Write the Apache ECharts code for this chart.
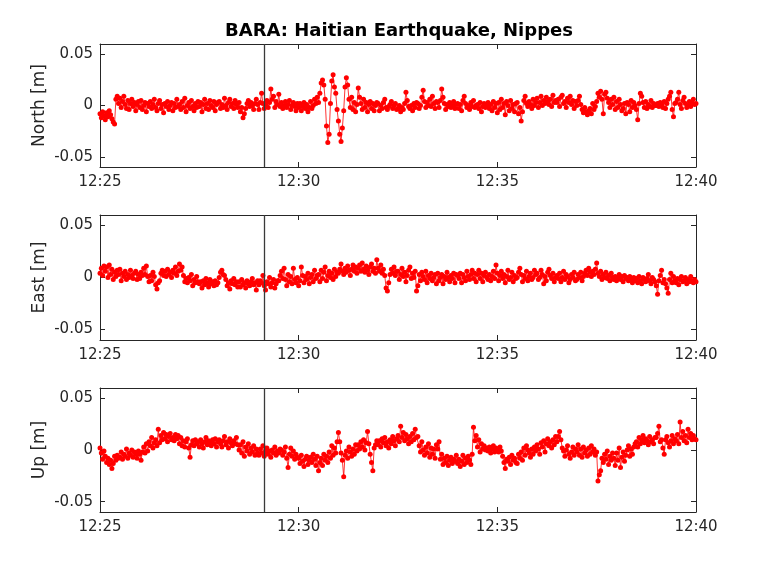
<!DOCTYPE html>
<html><head><meta charset="utf-8">
<script src="https://cdn.jsdelivr.net/npm/echarts@6/dist/echarts.min.js"></script>
<style>html,body{margin:0;padding:0;background:#fff}#c{width:768px;height:576px}</style>
</head><body><div id="c"></div>
<script>
const chartTitle = 'BARA: Haitian Earthquake, Nippes';
const componentNames = ['North [m]', 'East [m]', 'Up [m]'];
const xTickValues = [0, 300, 600, 900];            // seconds after 12:25:00
const xTickLabels = ['12:25', '12:30', '12:35', '12:40'];
const yTickValues = [-0.05, 0, 0.05];
const yTickLabels = ['-0.05', '0', '0.05'];
const sampleStepSec = 2;                          // samples every 2 s from 12:25:00
const eventTimeSec = 248;                         // 12:29:08 origin time marker

// displacements in millimetres, one row = 30 s
const northMM = [
  -8,-12,-6,-10,-14,-7,-11,-5,-9,-13,-16,-18,6,9,2,
  7,-2,4,9,1,-3,5,-4,2,6,-1,3,-5,1,4,
  -2,5,-4,0,3,-6,2,-1,4,-3,1,6,-2,-5,2,
  5,-3,1,-7,2,-1,4,-4,0,3,-5,2,-2,6,-1,
  1,-4,4,-2,7,-6,0,3,-3,5,-1,-5,2,-2,4,
  -1,3,-6,1,6,-3,2,-4,5,0,-2,4,-5,1,3,
  4,-3,1,-2,7,0,-4,3,6,-1,2,-3,5,1,-2,
  3,-6,-2,-12,-8,-3,2,5,-1,3,0,-4,2,6,1,
  -4,3,12,2,-3,1,5,-2,3,16,6,9,-2,4,1,
  11,-1,3,-3,0,4,-2,1,5,-4,0,3,-1,-5,2,
  -2,2,-5,-1,3,-3,1,-6,-2,4,-3,0,6,2,8,
  3,12,22,25,20,6,-20,-36,-28,2,24,30,18,12,-4,
  -15,-28,-35,-22,-5,18,27,20,6,-2,8,-4,3,-6,1,
  17,8,2,-4,6,-2,3,-6,1,4,-3,2,-5,0,3,
  2,-5,0,-3,3,6,-2,-4,-1,1,4,-3,0,2,-4,
  -3,0,-6,-2,-4,2,13,5,-1,-3,0,-5,2,-2,3,
  2,-3,0,8,15,4,-2,3,0,6,-1,9,2,-3,4,
  3,-2,5,16,8,2,-4,1,-1,3,-2,0,4,-3,1,
  2,-3,1,-5,5,9,2,-2,0,-4,3,-1,5,-2,0,
  1,-3,3,-6,-1,2,-2,0,3,-3,1,-5,4,-2,2,
  -7,3,-4,6,-2,2,-9,4,0,-5,5,-3,1,-6,2,
  3,-8,-2,-15,-6,5,9,2,-1,4,1,-3,6,0,3,
  7,-2,3,9,0,5,2,8,4,1,6,-1,10,3,5,
  3,6,-1,8,10,2,4,-2,7,3,9,1,5,-3,4,
  0,5,9,1,-4,-7,-2,-6,-9,-5,-3,-8,2,-4,-1,
  4,12,8,14,6,-8,11,13,7,3,-2,6,1,8,-4,
  4,-2,6,1,-5,-3,2,-8,3,1,-6,5,-2,3,0,
  -4,-14,2,12,9,3,-2,4,-3,1,-1,5,-2,2,0,
  0,2,-1,3,1,-2,4,-3,2,6,9,13,-4,-11,2,
  3,6,13,1,-3,5,8,2,-2,0,4,-1,3,6,1,
  2
];
const eastMM = [
  4,9,2,11,6,10,0,12,3,8,-2,5,1,7,3,
  8,-3,4,1,6,-2,3,0,7,2,-1,4,6,-2,3,
  -1,5,2,9,3,11,1,-4,2,-3,5,1,-7,-11,-5,
  -3,4,7,2,6,1,8,3,5,0,7,4,10,2,6,
  13,7,10,2,-4,-1,-5,0,-3,3,-8,-2,-5,1,-4,
  -6,-4,-10,-3,-7,-1,-5,-9,-2,-6,-4,-8,-3,-7,-5,
  0,5,7,3,2,-2,-8,-5,-11,-3,-6,-1,-7,-4,-9,
  -4,-9,-2,-7,-5,-10,-3,-6,-8,-4,-1,-7,-5,-12,-3,
  -7,-3,-5,2,-8,-12,-4,-6,0,-9,-5,-2,-10,-6,-3,
  -3,2,6,-1,9,-2,-8,3,-4,1,-6,9,-2,-5,0,
  -8,-3,10,2,-5,1,-2,4,-6,0,3,-4,7,-1,2,
  3,-4,7,-1,5,10,-3,2,6,0,4,-2,8,1,5,
  4,8,13,6,3,9,5,11,7,2,8,12,6,10,4,
  9,12,6,14,8,5,11,7,3,10,13,6,9,4,17,
  9,6,12,4,8,2,-10,-13,-5,3,8,4,10,2,6,
  6,-2,3,9,1,5,-4,2,7,10,-1,4,0,6,-13,
  -8,3,-3,5,1,-2,6,-5,2,-1,4,-3,0,3,-6,
  4,-3,0,3,-6,1,-2,5,0,-4,2,-1,4,-5,3,
  2,-1,4,-5,3,0,-3,6,1,-2,3,7,-1,4,-4,
  3,7,-1,4,-4,2,5,0,-2,3,-3,1,6,-1,12,
  4,-3,2,6,-1,3,-5,1,7,-2,0,5,-4,2,-1,
  0,5,9,3,-4,2,-1,6,-3,1,4,-2,0,7,3,
  4,-2,0,7,3,-6,1,-3,5,8,2,-1,4,-4,0,
  2,-1,4,-4,0,6,-2,3,1,-5,-2,3,0,5,-3,
  -2,3,0,5,-3,1,4,7,2,9,5,1,6,3,8,
  14,4,1,6,-2,3,0,5,-1,2,-3,4,0,-2,1,
  -3,0,3,-2,1,-4,2,-1,0,-3,1,-2,-5,0,-3,
  -1,-5,1,-3,-6,0,-2,-4,-1,3,-3,-6,0,-2,-4,
  -8,-16,-3,2,7,-5,-2,-6,-10,-15,-2,4,-5,1,-3,
  -5,-1,-7,-2,1,-4,-3,0,-6,-2,-4,1,-3,-5,-2,
  -4
];
const upMM = [
  2,-3,-9,-1,-6,-12,-8,-14,-10,-18,-13,-6,-10,-5,-8,
  -7,-2,-9,-4,-6,1,-8,-3,-5,0,-7,-2,-4,-8,-1,
  -4,-10,-2,3,-3,6,-1,8,4,12,2,7,10,4,20,
  7,14,10,17,11,15,8,13,16,10,12,9,15,11,14,
  6,12,4,9,3,8,11,2,-7,5,9,4,10,6,8,
  3,10,6,2,8,12,5,9,7,4,10,6,11,3,8,
  10,6,3,9,13,5,8,2,11,7,4,9,6,12,5,
  0,5,-3,8,-6,3,-1,6,-4,2,-2,4,-5,1,-3,
  -5,1,-3,4,-6,-2,2,-4,-1,-7,0,-3,3,-5,-1,
  -3,1,0,-5,-2,3,-8,-17,-4,2,-6,-1,-9,-4,-7,
  -8,-13,-5,-11,-16,-9,-6,-14,-10,-7,-12,-4,-9,-15,-6,
  -20,-12,-8,-15,-4,-10,-6,-12,-2,-8,4,-5,2,-3,8,
  17,8,-3,-10,-26,-5,-1,-8,3,-2,-6,1,-4,5,-1,
  5,1,8,3,10,0,7,18,6,-4,-12,-20,2,5,9,
  5,9,3,11,7,12,4,8,2,10,6,13,9,4,11,
  14,8,23,12,17,9,15,11,6,13,8,16,10,20,12,
  13,4,-2,8,0,-5,3,-3,6,-7,2,-4,1,-8,5,
  1,8,-9,-4,-14,-8,-12,-6,-15,-10,-7,-13,-9,-11,-5,
  -13,-9,-16,-11,-5,-14,-8,-12,-6,-10,-14,-4,22,9,14,
  3,10,-2,6,1,4,0,2,-1,3,-3,1,4,-2,2,
  0,-2,3,-1,-6,-12,-18,-9,-11,-7,-14,-5,-10,-8,-12,
  -13,-4,-8,-2,-10,2,-5,4,0,-3,-7,1,-4,3,-1,
  5,1,-4,7,3,9,-2,6,11,4,8,2,10,5,13,
  8,13,18,10,2,-1,-6,0,4,-4,-8,-2,3,-5,1,
  -2,5,-5,1,-7,3,-3,0,-6,2,-4,4,-2,1,-5,
  -2,-30,-24,-20,-8,-12,-4,-9,-1,-14,-6,-10,-3,-8,-15,
  -3,-10,2,-17,-7,-2,-11,-5,0,4,-6,1,-4,3,6,
  8,3,12,6,10,14,7,11,9,5,13,8,10,6,12,
  12,16,23,8,10,2,-4,10,13,7,3,9,14,6,11,
  9,15,6,27,12,18,9,14,7,20,12,16,10,14,11,
  10
];

const seriesMM = [northMM, eastMM, upMM];
const grids = [
  {left: 100, top: 44, width: 596, height: 123},
  {left: 100, top: 215, width: 596, height: 125},
  {left: 100, top: 388, width: 596, height: 124}
];
const TXT = '#262626';
const FONT = 'DejaVu Sans';
const xAxes = [], yAxes = [], series = [];
grids.forEach((g, i) => {
  const tick = {show: true, inside: true, length: 5, lineStyle: {color: '#262626', width: 1}};
  const line = {show: true, onZero: false, lineStyle: {color: '#262626', width: 1}};
  xAxes.push({
    gridIndex: i, type: 'value', position: 'bottom', min: 0, max: 900, interval: 300,
    axisLine: line, axisTick: tick, splitLine: {show: false},
    axisLabel: {color: TXT, fontFamily: FONT, fontSize: 15, margin: 8,
      formatter: v => xTickLabels[xTickValues.indexOf(v)] || ''}
  });
  xAxes.push({
    gridIndex: i, type: 'value', position: 'top', min: 0, max: 900, interval: 300,
    axisLine: line, axisTick: tick, splitLine: {show: false}, axisLabel: {show: false}
  });
  yAxes.push({
    gridIndex: i, type: 'value', position: 'left', min: -0.06, max: 0.06,
    name: componentNames[i], nameLocation: 'middle', nameGap: 52, nameMoveOverlap: false,
    nameTextStyle: {color: TXT, fontFamily: FONT, fontSize: 17},
    axisLine: line, splitLine: {show: false},
    axisTick: Object.assign({customValues: yTickValues}, tick),
    axisLabel: {color: TXT, fontFamily: FONT, fontSize: 15, margin: 7, customValues: yTickValues,
      formatter: v => { const k = yTickValues.findIndex(t => Math.abs(t - v) < 1e-9); return k >= 0 ? yTickLabels[k] : ''; }}
  });
  yAxes.push({
    gridIndex: i, type: 'value', position: 'right', min: -0.06, max: 0.06,
    axisLine: line, splitLine: {show: false},
    axisTick: Object.assign({customValues: yTickValues}, tick),
    axisLabel: {show: false}
  });
  series.push({
    type: 'line', xAxisIndex: 2 * i, yAxisIndex: 2 * i,
    data: seriesMM[i].map((v, k) => [k * sampleStepSec, v / 1000]),
    symbol: 'circle', symbolSize: 5, showSymbol: true, showAllSymbol: true,
    itemStyle: {color: '#ff0000'},
    lineStyle: {color: '#ff0000', width: 0.8},
    animation: false, silent: true,
    markLine: {
      silent: true, symbol: 'none', label: {show: false},
      lineStyle: {color: '#3a3a3a', width: 1.3, type: 'solid'},
      data: [{xAxis: eventTimeSec}]
    }
  });
});

const chart = echarts.init(document.getElementById('c'), null, {renderer: 'canvas'});
chart.setOption({
  backgroundColor: '#ffffff',
  animation: false,
  title: {text: chartTitle, left: 394, top: 17, textAlign: 'center',
    textStyle: {color: '#000', fontFamily: FONT, fontSize: 18, fontWeight: 'bold'}},
  grid: grids,
  xAxis: xAxes,
  yAxis: yAxes,
  series: series
});
</script>
</body></html>
